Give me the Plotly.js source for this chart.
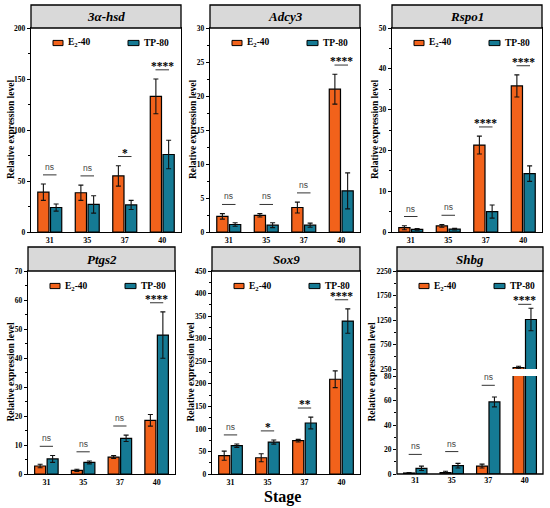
<!DOCTYPE html>
<html><head><meta charset="utf-8">
<script src="https://cdn.plot.ly/plotly-3.0.1.min.js"></script>
<style>html,body{margin:0;padding:0;background:#fff}#chart{width:550px;height:508px}</style>
</head><body><div id="chart"></div>
<script>
// ---------------- data ----------------
const stages = ['31', '35', '37', '40'];
const genes = ['3α-hsd', 'Adcy3', 'Rspo1', 'Ptgs2', 'Sox9', 'Shbg'];
const seriesNames = ['E<sub>2</sub>-40', 'TP-80'];

const hsd_E2 = [39, 38.5, 55, 133];     const hsd_E2_err = [8, 7.5, 10, 17];
const hsd_TP = [24, 27, 26.5, 76];      const hsd_TP_err = [3.5, 8.5, 4.5, 14];
const hsd_sig = ['ns', 'ns', '*', '****'];

const adcy3_E2 = [2.3, 2.45, 3.6, 21.0]; const adcy3_E2_err = [0.4, 0.25, 0.8, 2.2];
const adcy3_TP = [1.1, 1.0, 1.0, 6.05];  const adcy3_TP_err = [0.25, 0.35, 0.3, 2.65];
const adcy3_sig = ['ns', 'ns', 'ns', '****'];

const rspo1_E2 = [1.05, 1.5, 21.3, 35.8]; const rspo1_E2_err = [0.5, 0.35, 2.2, 2.7];
const rspo1_TP = [0.65, 0.7, 5.0, 14.3];  const rspo1_TP_err = [0.2, 0.2, 1.6, 1.9];
const rspo1_sig = ['ns', 'ns', '****', '****'];

const ptgs2_E2 = [2.75, 1.25, 5.85, 18.5]; const ptgs2_E2_err = [0.6, 0.4, 0.5, 2.0];
const ptgs2_TP = [5.2, 4.0, 12.3, 47.9];   const ptgs2_TP_err = [1.2, 0.5, 1.1, 8.0];
const ptgs2_sig = ['ns', 'ns', 'ns', '****'];

const sox9_E2 = [40.6, 36, 73.8, 210]; const sox9_E2_err = [10, 9, 3, 18.5];
const sox9_TP = [62.7, 70.8, 113, 339]; const sox9_TP_err = [3.7, 4.5, 13, 27];
const sox9_sig = ['ns', '*', '**', '****'];

const shbg_E2 = [0.8, 1.1, 6.5, 280]; const shbg_E2_err = [0.3, 1.2, 1.6, 25];
const shbg_TP = [4.6, 6.8, 58.8, 1260]; const shbg_TP_err = [1.8, 1.9, 4, 230];
const shbg_sig = ['ns', 'ns', 'ns', '****'];

const yRanges = [[0, 200], [0, 30], [0, 50], [0, 70], [0, 450], [0, 80]];
const yDticks = [50, 5, 10, 10, 50, 20];
const yMinor = [25, 2.5, 5, 5, 25, 10];
const shbgUpperRange = [250, 2250];
const shbgUpperTicks = [250, 750, 1250, 1750, 2250];

// ---------------- style / layout ----------------
const W = 550, H = 508;
const C_E2 = '#F2621B', C_TP = '#157A94';
const SERIF = 'Liberation Serif, Times New Roman, serif';
const panels = [
  {l: 31, r: 181, t: 28, b: 232, ht: 5},
  {l: 210, r: 360, t: 28, b: 232, ht: 5},
  {l: 392, r: 542, t: 28, b: 232, ht: 5},
  {l: 28, r: 175, t: 271, b: 474, ht: 247},
  {l: 212, r: 360, t: 271, b: 474, ht: 247},
  {l: 397, r: 543, t: 271, b: 474, ht: 247}
];
const yTitleX = [11, 193, 375, 10, 190, 371];
const shbgLowerTop = 376, shbgUpperBottom = 369;

const E2 = [hsd_E2, adcy3_E2, rspo1_E2, ptgs2_E2, sox9_E2, shbg_E2];
const E2e = [hsd_E2_err, adcy3_E2_err, rspo1_E2_err, ptgs2_E2_err, sox9_E2_err, shbg_E2_err];
const TP = [hsd_TP, adcy3_TP, rspo1_TP, ptgs2_TP, sox9_TP, shbg_TP];
const TPe = [hsd_TP_err, adcy3_TP_err, rspo1_TP_err, ptgs2_TP_err, sox9_TP_err, shbg_TP_err];
const SIG = [hsd_sig, adcy3_sig, rspo1_sig, ptgs2_sig, sox9_sig, shbg_sig];

const px = v => v / W;
const py = v => 1 - v / H;

const traces = [];
const layout = {
  width: W, height: H,
  margin: {l: 0, r: 0, t: 0, b: 0},
  paper_bgcolor: '#fff', plot_bgcolor: 'rgba(0,0,0,0)',
  showlegend: false,
  barmode: 'group', bargap: 0.32, bargroupgap: 0.12,
  shapes: [], annotations: []
};

const tickFont = {family: SERIF, size: 7.5, color: '#000', weight: 700};

function yAxisBase(range, extra) {
  return Object.assign({
    range: range, autorange: false, showgrid: false, zeroline: false,
    ticks: 'outside', ticklen: 3, tickwidth: 1, tickcolor: '#000',
    tickfont: tickFont, fixedrange: true
  }, extra);
}

function addBars(xa, ya, i) {
  const mk = (vals, errs, color, name) => ({
    type: 'bar', x: stages, y: vals, name: name, xaxis: xa, yaxis: ya,
    marker: {color: color, line: {color: '#000', width: 1.2}},
    error_y: {type: 'data', array: errs, visible: true, color: '#111', thickness: 1.1, width: 2.5},
    hoverinfo: 'skip'
  });
  traces.push(mk(E2[i], E2e[i], C_E2, seriesNames[0]));
  traces.push(mk(TP[i], TPe[i], C_TP, seriesNames[1]));
}

panels.forEach((p, i) => {
  const n = i + 1;
  const xa = 'x' + (n === 1 ? '' : n);
  const ya = 'y' + (n === 1 ? '' : n);
  const xKey = 'xaxis' + (n === 1 ? '' : n);
  const yKey = 'yaxis' + (n === 1 ? '' : n);
  const isShbg = i === 5;

  layout[xKey] = {
    domain: [px(p.l), px(p.r)], anchor: ya, type: 'category', range: [-0.5, 3.5],
    showline: !isShbg, mirror: true, linecolor: '#000', linewidth: 1.3,
    ticks: '', showgrid: false, zeroline: false, fixedrange: true,
    tickfont: {family: SERIF, size: 8, color: '#000', weight: 700}
  };

  if (!isShbg) {
    layout[yKey] = yAxisBase(yRanges[i], {
      domain: [py(p.b), py(p.t)], anchor: xa, dtick: yDticks[i],
      showline: true, mirror: true, linecolor: '#000', linewidth: 1.3,
      minor: {dtick: yMinor[i], ticks: 'outside', ticklen: 1.8, tickwidth: 1, tickcolor: '#000'}
    });
    addBars(xa, ya, i);
  } else {
    layout[yKey] = yAxisBase(yRanges[i], {
      domain: [py(p.b), py(shbgLowerTop)], anchor: xa, dtick: yDticks[i], showline: false,
      minor: {dtick: yMinor[i], ticks: 'outside', ticklen: 1.8, tickwidth: 1, tickcolor: '#000'}
    });
    layout['yaxis7'] = yAxisBase(shbgUpperRange, {
      domain: [py(shbgUpperBottom), py(p.t)], anchor: xa, tickmode: 'array',
      tickvals: shbgUpperTicks, showline: false,
      minor: {tickmode: 'linear', tick0: 0, dtick: 250, ticks: 'outside', ticklen: 1.8, tickwidth: 1, tickcolor: '#000'}
    });
    addBars(xa, ya, i);
    addBars(xa, 'y7', i);
    // continuous frame around the broken-axis panel
    layout.shapes.push({type: 'rect', xref: 'paper', yref: 'paper',
      x0: px(p.l), x1: px(p.r), y0: py(p.b), y1: py(p.t),
      line: {color: '#000', width: 1.3}, fillcolor: 'rgba(0,0,0,0)', layer: 'above'});
  }

  // header box
  layout.shapes.push({type: 'rect', xref: 'paper', yref: 'paper',
    x0: px(p.l), x1: px(p.r), y0: py(p.t), y1: py(p.ht),
    line: {color: '#000', width: 1.3}, fillcolor: '#D9D9D9', layer: 'above'});
  layout.annotations.push({xref: 'paper', yref: 'paper',
    x: px((p.l + p.r) / 2), y: py((p.t + p.ht) / 2), text: genes[i],
    showarrow: false, xanchor: 'center', yanchor: 'middle',
    font: {family: SERIF, size: 13, color: '#000', weight: 700, style: 'italic'}});

  // y-axis title
  layout.annotations.push({xref: 'paper', yref: 'paper',
    x: px(yTitleX[i]), y: py((p.t + p.b) / 2), text: 'Relative expression level',
    textangle: -90, showarrow: false, xanchor: 'center', yanchor: 'middle',
    font: {family: SERIF, size: 9.5, color: '#000', weight: 700}});

  // manual legend
  const ly = p.t + 15;
  const legendItems = [[p.l + 22, p.l + 32, C_E2, seriesNames[0]], [p.l + 97, p.l + 108, C_TP, seriesNames[1]]];
  legendItems.forEach(([a, b, col, name]) => {
    layout.shapes.push({type: 'rect', xref: 'paper', yref: 'paper',
      x0: px(a), x1: px(b), y0: py(ly + 2.6), y1: py(ly - 2.6),
      line: {color: '#000', width: 1}, fillcolor: col});
    layout.annotations.push({xref: 'paper', yref: 'paper', x: px(b + 3), y: py(ly),
      text: name, showarrow: false, xanchor: 'left', yanchor: 'middle',
      font: {family: SERIF, size: 9.5, color: '#000', weight: 700}});
  });

  // significance marks (positioned from data)
  stages.forEach((s, k) => {
    const top = Math.max(E2[i][k] + E2e[i][k], TP[i][k] + TPe[i][k]);
    let yref = ya, rng = yRanges[i], gap = 0.045;
    if (isShbg) {
      if (top > yRanges[i][1]) { yref = 'y7'; rng = shbgUpperRange; gap = 0.04; }
      else { gap = 0.12; }
    }
    const yl = top + gap * (rng[1] - rng[0]);
    layout.shapes.push({type: 'line', xref: xa, yref: yref,
      x0: k - 0.18, x1: k + 0.18, y0: yl, y1: yl, line: {color: '#333', width: 1}});
    const isNs = SIG[i][k] === 'ns';
    layout.annotations.push({xref: xa, yref: yref, x: k, y: yl, text: SIG[i][k],
      showarrow: false, xanchor: 'center', yanchor: 'bottom', yshift: isNs ? 1 : -4,
      font: isNs ? {family: 'Liberation Sans, Arial, sans-serif', size: 8.5, color: '#444'}
                 : {family: SERIF, size: 11.5, color: '#000', weight: 700}});
  });
});

layout.annotations.push({xref: 'paper', yref: 'paper', x: px(282), y: py(497),
  text: 'Stage', showarrow: false, xanchor: 'center', yanchor: 'middle',
  font: {family: SERIF, size: 16, color: '#000', weight: 700}});

Plotly.newPlot('chart', traces, layout, {staticPlot: true, displayModeBar: false});
</script></body></html>
